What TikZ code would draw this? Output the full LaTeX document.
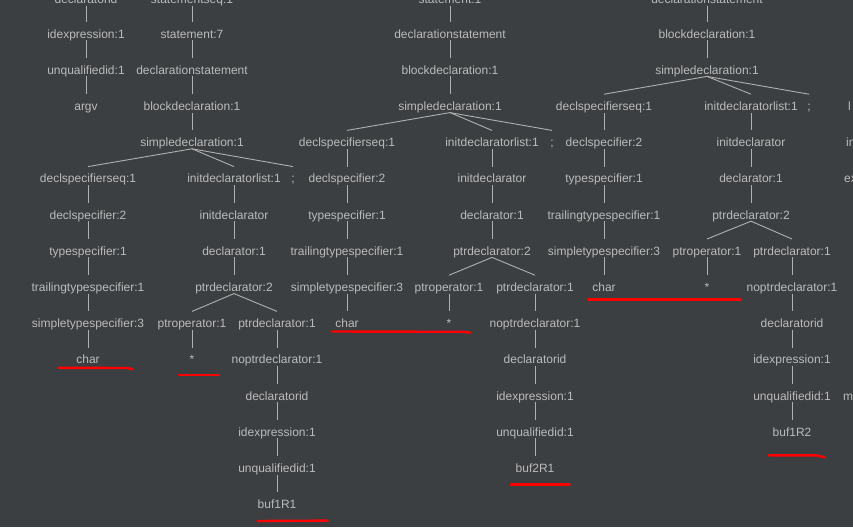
\documentclass[tikz,border=0pt]{standalone}
\usepackage{fontspec}
\setmainfont{Liberation Sans}
\definecolor{bg}{HTML}{3C3F41}
\definecolor{txt}{HTML}{BBBBBB}
\definecolor{ln}{HTML}{B0B0B0}
\definecolor{redmark}{HTML}{FF0000}
\tikzset{
  t/.style={text=txt, font=\fontsize{12}{14}\selectfont, inner sep=0pt,
            text height=16pt, text depth=2pt, anchor=base},
  tw/.style={t, anchor=base west},
  edge/.style={draw=ln, line width=0.9pt},
  redline/.style={draw=redmark, line width=2.4pt, line cap=round, line join=round}
}
\newcommand{\rb}[1]{\fpeval{1.8+36.2*(#1)}}
\begin{document}
\begin{tikzpicture}[x=1pt,y=-1pt]
\useasboundingbox (0,0) rectangle (853,527);
\fill[bg] (0,0) rectangle (853,527);
\clip (0,0) rectangle (853,527);

% ---------- left column: declaratorid chain ----------
\node[t] (a0) at (86,3.5) {declaratorid};
\node[t] (a1) at (86,\rb{1}) {idexpression:1};
\node[t] (a2) at (86,\rb{2}) {unqualifiedid:1};
\node[t] (a3) at (86,\rb{3}) {argv};

% ---------- tree 1 ----------
\node[t] (p0) at (192,3.5) {statementseq:1};
\node[t] (p1) at (192,\rb{1}) {statement:7};
\node[t] (p2) at (192,\rb{2}) {declarationstatement};
\node[t] (p3) at (192,\rb{3}) {blockdeclaration:1};
\node[t] (p4) at (192,\rb{4}) {simpledeclaration:1};
\node[t] (p5) at (88,\rb{5}) {declspecifierseq:1};
\node[t] (p5b) at (234,\rb{5}) {initdeclaratorlist:1};
\node[t] (p5c) at (293,\rb{5}) {;};
\node[t] (p6) at (88,\rb{6}) {declspecifier:2};
\node[t] (p6b) at (234,\rb{6}) {initdeclarator};
\node[t] (p7) at (88,\rb{7}) {typespecifier:1};
\node[t] (p7b) at (234,\rb{7}) {declarator:1};
\node[t] (p8) at (88,\rb{8}) {trailingtypespecifier:1};
\node[t] (p8b) at (234,\rb{8}) {ptrdeclarator:2};
\node[t] (p9) at (88,\rb{9}) {simpletypespecifier:3};
\node[t] (p9b) at (192,\rb{9}) {ptroperator:1};
\node[t] (p9c) at (277,\rb{9}) {ptrdeclarator:1};
\node[t] (p10) at (88,\rb{10}) {char};
\node[t] (p10b) at (192,\rb{10}) {*};
\node[t] (p10c) at (277,\rb{10}) {noptrdeclarator:1};
\node[t] (p11) at (277,\rb{11}) {declaratorid};
\node[t] (p12) at (277,\rb{12}) {idexpression:1};
\node[t] (p13) at (277,\rb{13}) {unqualifiedid:1};
\node[t] (p14) at (277,\rb{14}) {buf1R1};

% ---------- tree 2 ----------
\node[t] (q0) at (450,3.5) {statement:1};
\node[t] (q1) at (450,\rb{1}) {declarationstatement};
\node[t] (q2) at (450,\rb{2}) {blockdeclaration:1};
\node[t] (q3) at (450,\rb{3}) {simpledeclaration:1};
\node[t] (q4) at (347,\rb{4}) {declspecifierseq:1};
\node[t] (q4b) at (492,\rb{4}) {initdeclaratorlist:1};
\node[t] (q4c) at (552,\rb{4}) {;};
\node[t] (q5) at (347,\rb{5}) {declspecifier:2};
\node[t] (q5b) at (492,\rb{5}) {initdeclarator};
\node[t] (q6) at (347,\rb{6}) {typespecifier:1};
\node[t] (q6b) at (492,\rb{6}) {declarator:1};
\node[t] (q7) at (347,\rb{7}) {trailingtypespecifier:1};
\node[t] (q7b) at (492,\rb{7}) {ptrdeclarator:2};
\node[t] (q8) at (347,\rb{8}) {simpletypespecifier:3};
\node[t] (q8b) at (449,\rb{8}) {ptroperator:1};
\node[t] (q8c) at (535,\rb{8}) {ptrdeclarator:1};
\node[t] (q9) at (347,\rb{9}) {char};
\node[t] (q9b) at (449,\rb{9}) {*};
\node[t] (q9c) at (535,\rb{9}) {noptrdeclarator:1};
\node[t] (q10) at (535,\rb{10}) {declaratorid};
\node[t] (q11) at (535,\rb{11}) {idexpression:1};
\node[t] (q12) at (535,\rb{12}) {unqualifiedid:1};
\node[t] (q13) at (535,\rb{13}) {buf2R1};

% ---------- tree 3 ----------
\node[t] (r0) at (707,3.5) {declarationstatement};
\node[t] (r1) at (707,\rb{1}) {blockdeclaration:1};
\node[t] (r2) at (707,\rb{2}) {simpledeclaration:1};
\node[t] (r3) at (604,\rb{3}) {declspecifierseq:1};
\node[t] (r3b) at (751,\rb{3}) {initdeclaratorlist:1};
\node[t] (r3c) at (809,\rb{3}) {;};
\node[t] (r4) at (604,\rb{4}) {declspecifier:2};
\node[t] (r4b) at (751,\rb{4}) {initdeclarator};
\node[t] (r5) at (604,\rb{5}) {typespecifier:1};
\node[t] (r5b) at (751,\rb{5}) {declarator:1};
\node[t] (r6) at (604,\rb{6}) {trailingtypespecifier:1};
\node[t] (r6b) at (751,\rb{6}) {ptrdeclarator:2};
\node[t] (r7) at (604,\rb{7}) {simpletypespecifier:3};
\node[t] (r7b) at (707,\rb{7}) {ptroperator:1};
\node[t] (r7c) at (792,\rb{7}) {ptrdeclarator:1};
\node[t] (r8) at (604,\rb{8}) {char};
\node[t] (r8b) at (707,\rb{8}) {*};
\node[t] (r8c) at (792,\rb{8}) {noptrdeclarator:1};
\node[t] (r9) at (792,\rb{9}) {declaratorid};
\node[t] (r10) at (792,\rb{10}) {idexpression:1};
\node[t] (r11) at (792,\rb{11}) {unqualifiedid:1};
\node[t] (r12) at (792,\rb{12}) {buf1R2};

% ---------- fragments at the right edge ----------
\node[tw] (s3) at (848,\rb{3}) {l};
\node[tw] (s4) at (846,\rb{4}) {in};
\node[tw] (s5) at (844,\rb{5}) {ex};
\node[tw] (s11) at (843,\rb{11}) {m};

% ---------- edges ----------
\foreach \u/\v in {a0/a1,a1/a2,a2/a3,
  p0/p1,p1/p2,p2/p3,p3/p4,p4/p5,p4/p5b,p4/p5c,p5/p6,p6/p7,p7/p8,p8/p9,p9/p10,
  p5b/p6b,p6b/p7b,p7b/p8b,p8b/p9b,p8b/p9c,p9b/p10b,p9c/p10c,p10c/p11,p11/p12,p12/p13,p13/p14,
  q0/q1,q1/q2,q2/q3,q3/q4,q3/q4b,q3/q4c,q4/q5,q5/q6,q6/q7,q7/q8,q8/q9,
  q4b/q5b,q5b/q6b,q6b/q7b,q7b/q8b,q7b/q8c,q8b/q9b,q8c/q9c,q9c/q10,q10/q11,q11/q12,q12/q13,
  r0/r1,r1/r2,r2/r3,r2/r3b,r2/r3c,r3/r4,r4/r5,r5/r6,r6/r7,r7/r8,
  r3b/r4b,r4b/r5b,r5b/r6b,r6b/r7b,r6b/r7c,r7b/r8b,r7c/r8c,r8c/r9,r9/r10,r10/r11,r11/r12}
  \draw[edge] (\u.south) -- (\v.north);

% ---------- red hand-drawn underlines ----------
\draw[redline] (59,367.8) -- (127,368) -- (133,369.2);
\draw[redline] (179,374.8) -- (219,374.8);
\draw[redline] (258,521) -- (328,520.6);
\draw[redline] (332.3,331.5) -- (463,331.8) -- (470.7,332.6);
\draw[redline] (511,484.3) -- (570,484.3);
\draw[redline] (588.3,299.3) -- (741,299.3);
\draw[redline] (769,455.3) -- (816.7,455.3) -- (825,457.3);
\end{tikzpicture}
\end{document}
